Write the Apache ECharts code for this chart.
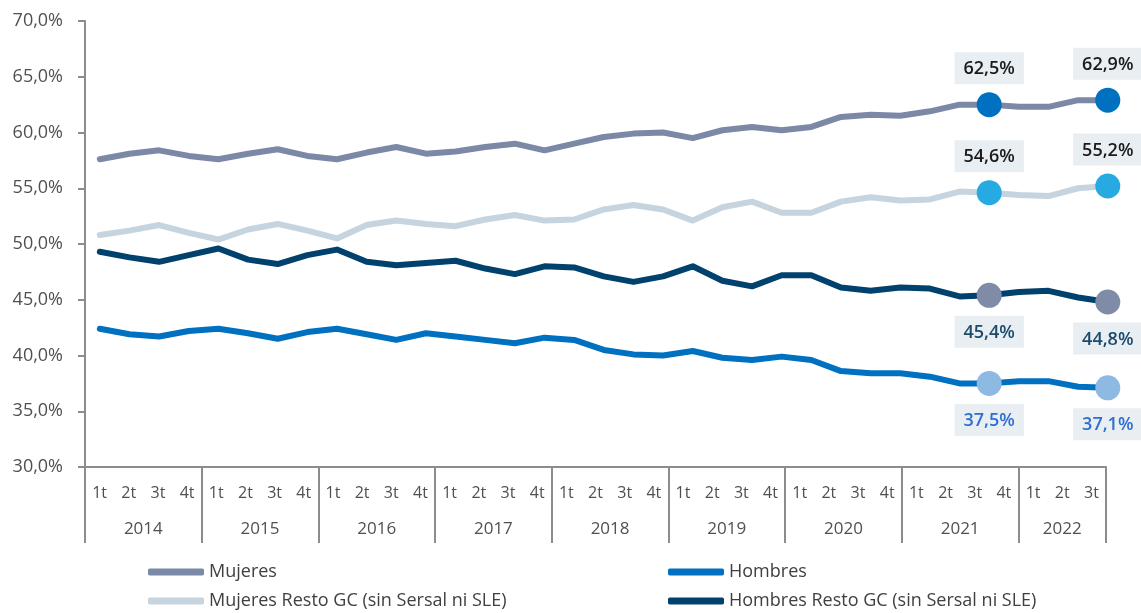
<!DOCTYPE html>
<html><head><meta charset="utf-8">
<script src="https://cdn.jsdelivr.net/npm/echarts@6/dist/echarts.min.js"></script>
<style>html,body{margin:0;padding:0;background:#fff}#c{width:1141px;height:613px}</style>
</head><body><div id="c"></div>
<script>
// ---- data ----
const years = ['2014','2015','2016','2017','2018','2019','2020','2021','2022'];
const quartersPerYear = [4,4,4,4,4,4,4,4,3];
const quarterNames = ['1t','2t','3t','4t'];
const seriesNames = ['Mujeres','Hombres','Mujeres Resto GC (sin Sersal ni SLE)','Hombres Resto GC (sin Sersal ni SLE)'];
const mujeres = [57.6,58.1,58.4,57.9,57.6,58.1,58.5,57.9,57.6,58.2,58.7,58.1,58.3,58.7,59.0,58.4,59.0,59.6,59.9,60.0,59.5,60.2,60.5,60.2,60.5,61.4,61.6,61.5,61.9,62.5,62.5,62.3,62.3,62.9,62.9];
const hombres = [42.4,41.9,41.7,42.2,42.4,42.0,41.5,42.1,42.4,41.9,41.4,42.0,41.7,41.4,41.1,41.6,41.4,40.5,40.1,40.0,40.4,39.8,39.6,39.9,39.6,38.6,38.4,38.4,38.1,37.5,37.5,37.7,37.7,37.2,37.1];
const mujeresResto = [50.8,51.2,51.7,51.0,50.4,51.3,51.8,51.2,50.5,51.7,52.1,51.8,51.6,52.2,52.6,52.1,52.2,53.1,53.5,53.1,52.1,53.3,53.8,52.8,52.8,53.8,54.2,53.9,54.0,54.7,54.6,54.4,54.3,55.0,55.2];
const hombresResto = [49.3,48.8,48.4,49.0,49.6,48.6,48.2,49.0,49.5,48.4,48.1,48.3,48.5,47.8,47.3,48.0,47.9,47.1,46.6,47.1,48.0,46.7,46.2,47.2,47.2,46.1,45.8,46.1,46.0,45.3,45.4,45.7,45.8,45.2,44.8];
const highlightIdx = [30, 34];
const yMin = 30, yMax = 70, yStep = 5;

// ---- derived axis data ----
const quarterCats = [];
years.forEach((y, yi) => { for (let q = 0; q < quartersPerYear[yi]; q++) quarterCats.push(quarterNames[q]); });
const nQ = quarterCats.length;
const halfCats = new Array(2 * nQ + 1).fill('');
const boundaries = new Set([0]);
let acc = 0;
years.forEach((y, yi) => {
  halfCats[2 * acc + quartersPerYear[yi]] = y;
  acc += quartersPerYear[yi];
  boundaries.add(2 * acc);
});

const FONT = 'Open Sans';
const pct = v => Number(v).toFixed(1).replace('.', ',') + '%';
const palette = ['#7b88a6', '#0070c0', '#c5d4de', '#00416e'];

function mk(idx, values, markerColor, labelColor, pos) {
  return {
    type: 'line', name: seriesNames[idx], xAxisIndex: 0, yAxisIndex: 0,
    symbol: 'none', animation: false, emphasis: { disabled: true },
    lineStyle: { width: 6, cap: 'round', join: 'round', color: palette[idx] },
    itemStyle: { color: palette[idx] },
    data: values.map((v, i) => highlightIdx.includes(i) ? {
      value: v, symbol: 'circle', symbolSize: 25,
      itemStyle: { color: markerColor },
      label: {
        show: true, position: pos, distance: 8, formatter: p => pct(p.value),
        color: labelColor, backgroundColor: '#e9eef3', padding: [8, 9, 6, 9],
        fontSize: 18, fontWeight: 600, fontFamily: FONT
      }
    } : v)
  };
}

const chart = echarts.init(document.getElementById('c'), null, { renderer: 'canvas' });
const axisGray = '#8c8c8c';
const legendText = { fontFamily: FONT, fontSize: 18, color: '#404040', lineHeight: 20 };
chart.setOption({
  animation: false,
  color: palette,
  grid: [
    { left: 85, top: 21, height: 446, width: 1037.6 },
    { left: 85, top: 21, height: 446, width: 1021 },
    { left: 85, top: 21, height: 446, width: 1021 }
  ],
  legend: [
    { data: [seriesNames[0], seriesNames[2]], orient: 'vertical', left: 148, top: 562, padding: 0, itemWidth: 56, itemHeight: 7, itemGap: 9, icon: 'roundRect', textStyle: legendText },
    { data: [seriesNames[1], seriesNames[3]], orient: 'vertical', left: 668, top: 562, padding: 0, itemWidth: 56, itemHeight: 7, itemGap: 9, icon: 'roundRect', textStyle: legendText }
  ],
  xAxis: [
    { type: 'category', gridIndex: 0, data: quarterCats, show: false, boundaryGap: true },
    { type: 'category', gridIndex: 1, data: quarterCats, boundaryGap: true, position: 'bottom',
      axisLine: { show: false }, axisTick: { show: false },
      axisLabel: { interval: 0, margin: 18, fontFamily: FONT, fontSize: 16, color: '#505050' } },
    { type: 'category', gridIndex: 2, data: halfCats, boundaryGap: false, position: 'bottom',
      axisLine: { show: true, lineStyle: { color: axisGray, width: 2 } },
      axisTick: { show: true, interval: (i) => boundaries.has(i), length: 76, lineStyle: { color: axisGray, width: 2 } },
      axisLabel: { interval: 0, margin: 54, fontFamily: FONT, fontSize: 17, color: '#505050' } }
  ],
  yAxis: [
    { type: 'value', gridIndex: 0, min: yMin, max: yMax, interval: yStep,
      axisLine: { show: true, lineStyle: { color: axisGray, width: 2 } },
      axisTick: { show: true, length: 7, lineStyle: { color: axisGray, width: 2 } },
      splitLine: { show: false },
      axisLabel: { formatter: pct, margin: 22, fontFamily: FONT, fontSize: 18, color: '#505050' } },
    { type: 'value', gridIndex: 1, min: yMin, max: yMax, show: false },
    { type: 'value', gridIndex: 2, min: yMin, max: yMax, show: false }
  ],
  series: [
    mk(0, mujeres, '#0070c0', '#1a1a1a', 'top'),
    mk(1, hombres, '#8db9e3', '#2e6fd1', 'bottom'),
    mk(2, mujeresResto, '#27a9e1', '#1a1a1a', 'top'),
    mk(3, hombresResto, '#7f8ba7', '#1b4a6b', 'bottom')
  ]
});
</script>
</body></html>
